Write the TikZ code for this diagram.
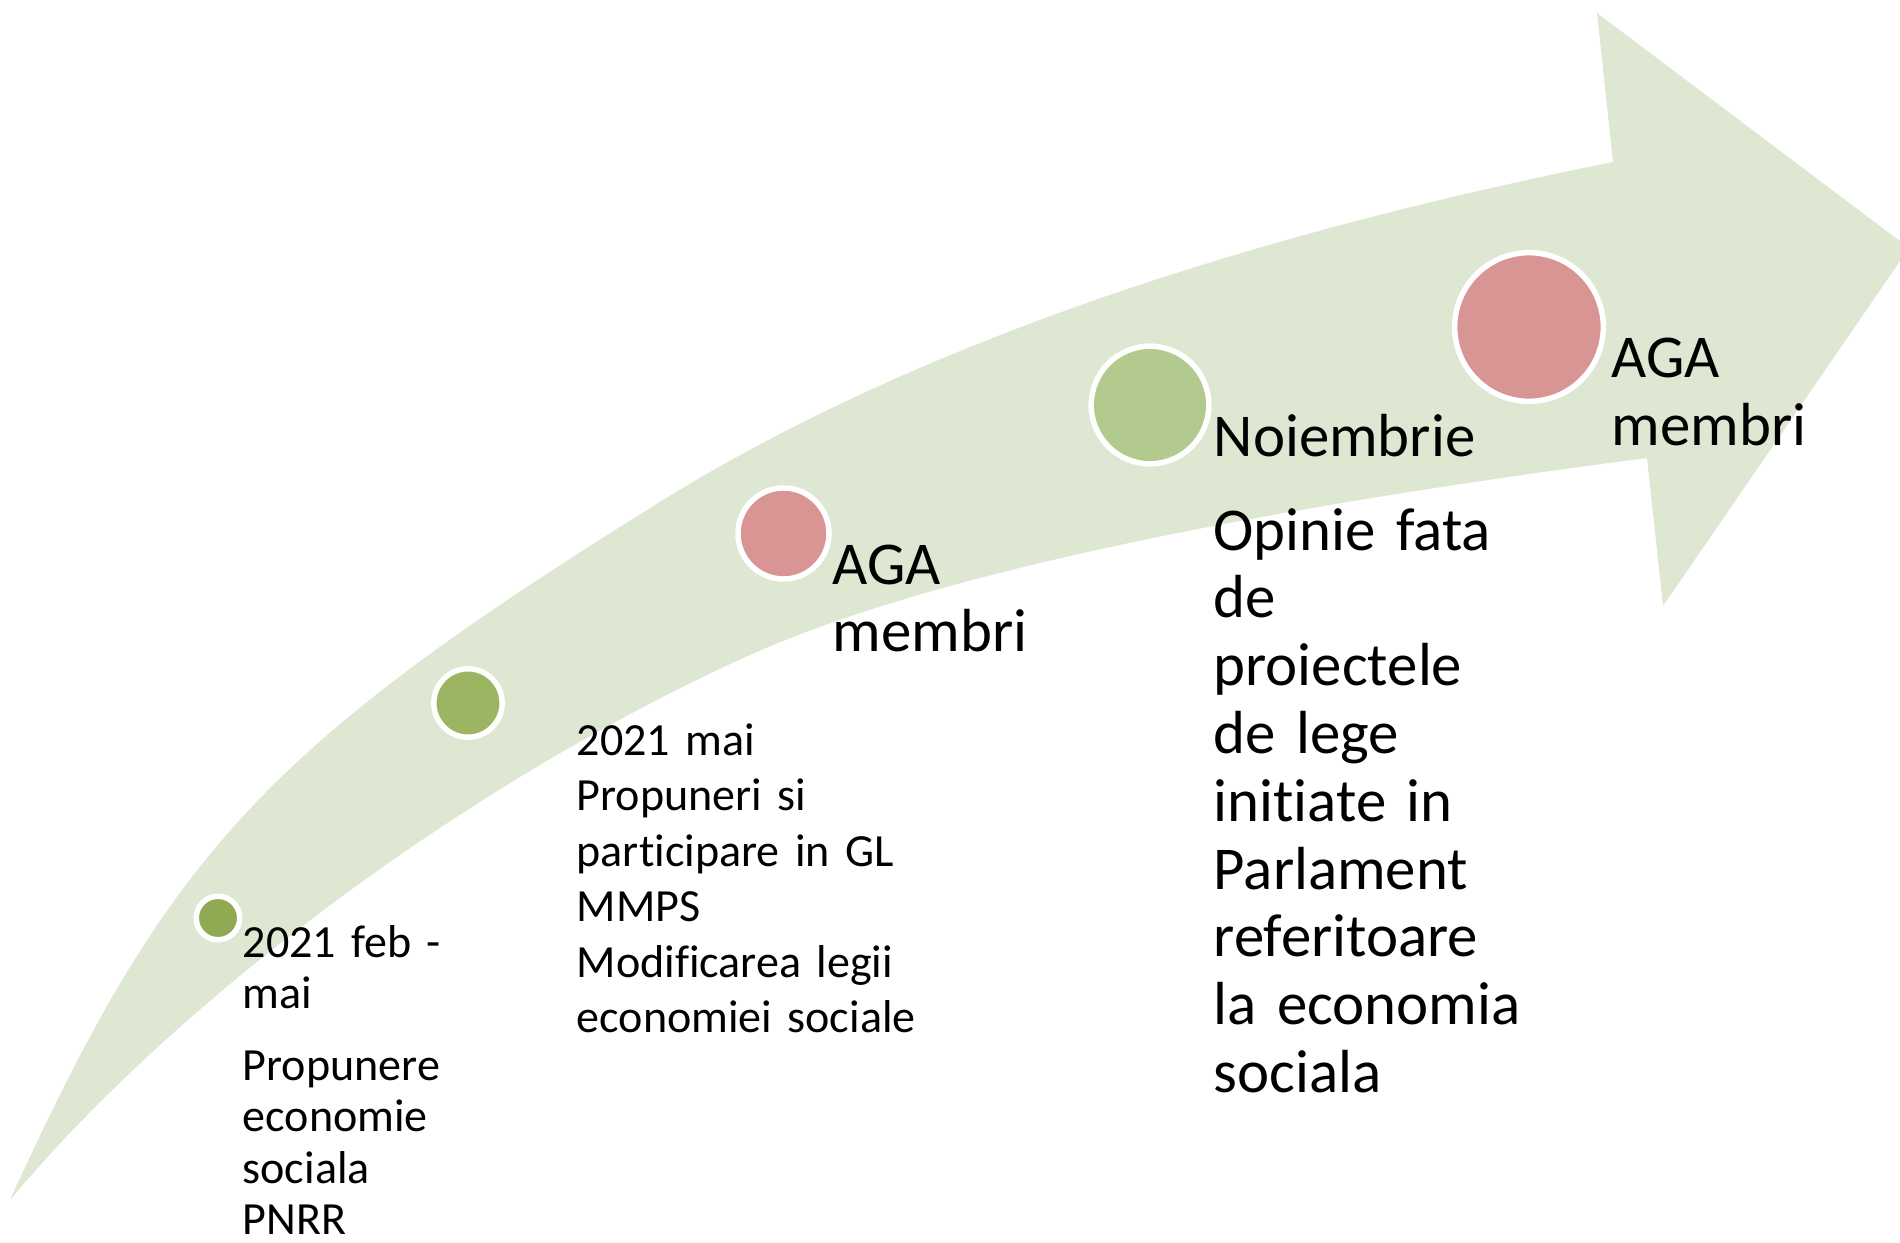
\documentclass[tikz,border=0pt]{standalone}
\usepackage{fontspec}
\setmainfont{Carlito}[Ligatures=NoCommon]
\usepackage{tikz}
\definecolor{arrowfill}{RGB}{222,231,209}
\definecolor{dotdark}{RGB}{143,170,80}
\definecolor{dotgreen}{RGB}{155,181,99}
\definecolor{dotlight}{RGB}{179,202,143}
\definecolor{dotpink}{RGB}{217,149,148}

\begin{document}
\begin{tikzpicture}[x=0.01cm,y=-0.01cm,
  dot/.style={circle,draw=white,line width=1.56pt,inner sep=0pt},
  small/.style={anchor=base west,inner sep=0pt,text width=6cm,align=left,font=\fontsize{13.1}{15.8}\selectfont},
  big/.style={anchor=base west,inner sep=0pt,text width=6cm,align=left,font=\fontsize{17.3}{19.28}\selectfont}]
\useasboundingbox (0,0) rectangle (1900,1243);
\clip (0,0) rectangle (1900,1243);

\fill[color=arrowfill] (10,1200) .. controls (169,851) and (267,746) .. (663,500)
  .. controls (898,355) and (1214,242) .. (1613,162) -- (1597,13) -- (1909,248)
  -- (1663,606) -- (1647,458) .. controls (1216,514) and (917,580) .. (750,655)
  .. controls (476,778) and (180,996) .. (10,1200) -- cycle;

\node[dot,fill=dotdark,minimum size=0.435cm] (feb) at (218,918) {};
\node[dot,fill=dotgreen,minimum size=0.684cm] (mai) at (468,703) {};
\node[dot,fill=dotpink,minimum size=0.91cm] (aga) at (783.5,533.5) {};
\node[dot,fill=dotlight,minimum size=1.176cm] (nov) at (1150,405) {};
\node[dot,fill=dotpink,minimum size=1.486cm] (agb) at (1529,327) {};

\node[small,font=\fontsize{13.1}{14.65}\selectfont] (febtext) at (242,957)
  {2021 feb -\\mai\\[5.8pt]Propunere\\economie\\sociala\\PNRR};
\node[small] (maitext) at (576,755)
  {2021 mai\\Propuneri si\\participare in GL\\MMPS\\Modificarea legii\\economiei sociale};
\node[big] (agatext) at (832,584) {AGA\\membri};
\node[big] (novtext) at (1213,456)
  {Noiembrie\\[7.5pt]Opinie fata\\de\\proiectele\\de lege\\initiate in\\Parlament\\referitoare\\la economia\\sociala};
\node[big] (agbtext) at (1611,377.5) {AGA\\membri};
\end{tikzpicture}
\end{document}
